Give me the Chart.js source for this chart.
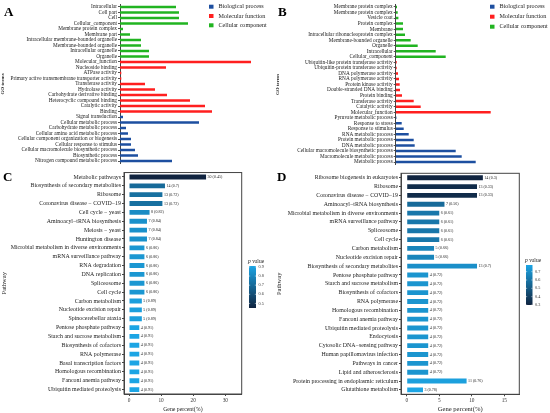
<!DOCTYPE html>
<html>
<head>
<meta charset="utf-8">
<script src="https://cdn.jsdelivr.net/npm/chart.js@4.4.0/dist/chart.umd.min.js"></script>
<style>
  body { margin: 0; background: #fff; width: 550px; height: 413px; overflow: hidden; position: relative; }
  canvas { position: absolute; }
  .tag { position: absolute; font: bold 13px "Liberation Serif", serif; color: #000; line-height: 1; }
</style>
</head>
<body>
<canvas id="chartA" width="275" height="168" style="left:0;top:0"></canvas>
<canvas id="chartB" width="275" height="169" style="left:275px;top:0"></canvas>
<canvas id="chartC" width="275" height="245" style="left:0;top:168px"></canvas>
<canvas id="chartD" width="275" height="245" style="left:275px;top:168px"></canvas>
<div class="tag" style="left:4px;top:5px">A</div>
<div class="tag" style="left:278px;top:5px">B</div>
<div class="tag" style="left:3px;top:170px">C</div>
<div class="tag" style="left:277px;top:170px">D</div>
<script>
const FONT = '"Liberation Serif", serif';

const goCategories = ["Biological process", "Molecular function", "Cellular component"];
const goColors = ["#1d4fa0", "#ff1f1f", "#21b421"];

// panel A: GO terms
const aTerms = [
  "Intracellular", "Cell part", "Cell", "Cellular_component", "Membrane protein complex",
  "Membrane part", "Intracellular membrane-bounded organelle", "Membrane-bounded organelle",
  "Intracellular organelle", "Organelle",
  "Molecular_function", "Nucleoside binding", "ATPase activity",
  "Primary active transmembrane transporter activity", "Transferase activity", "Hydrolase activity",
  "Carbohydrate derivative binding", "Heterocyclic compound binding", "Catalytic activity", "Binding",
  "Signal transduction", "Cellular metabolic process", "Carbohydrate metabolic process",
  "Cellular amino acid metabolic process", "Cellular component organization or biogenesis",
  "Cellular response to stimulus", "Cellular macromolecule biosynthetic process",
  "Biosynthetic process", "Nitrogen compound metabolic process"
];
const aValues = [56, 59, 59, 68, 3, 10, 21, 21, 29, 29,
                 131, 46, 1.3, 1.3, 25, 35, 47, 70, 85, 92,
                 3, 79, 6, 8, 11, 11, 15, 18, 52];
const aGroups = [
  "Cellular component", "Cellular component", "Cellular component", "Cellular component", "Cellular component",
  "Cellular component", "Cellular component", "Cellular component", "Cellular component", "Cellular component",
  "Molecular function", "Molecular function", "Molecular function", "Molecular function", "Molecular function",
  "Molecular function", "Molecular function", "Molecular function", "Molecular function", "Molecular function",
  "Biological process", "Biological process", "Biological process", "Biological process", "Biological process",
  "Biological process", "Biological process", "Biological process", "Biological process"
];

// panel B: GO terms
const bTerms = [
  "Membrane protein complex", "Membrane protein complex", "Vesicle coat", "Protein complex", "Membrane",
  "Intracellular ribonucleoprotein complex", "Membrane-bounded organelle", "Organelle", "Intracellular",
  "Cellular_component",
  "Ubiquitin-like protein transferase activity", "Ubiquitin-protein transferase activity",
  "DNA polymerase activity", "RNA polymerase activity", "Protein kinase activity",
  "Double-stranded DNA binding", "Protein binding", "Transferase activity", "Catalytic activity",
  "Molecular_function",
  "Pyruvate metabolic process", "Response to stress", "Response to stimulus", "RNA metabolic process",
  "Protein metabolic process", "DNA metabolic process", "Cellular macromolecule biosynthetic process",
  "Macromolecule metabolic process", "Metabolic process"
];
const bValues = [1.3, 2, 2.7, 7.3, 7.3, 9.3, 15, 22, 40, 50,
                 1, 1, 2.3, 3.3, 4, 4.3, 6.3, 18, 25, 95,
                 0.7, 6, 8, 13, 18, 19, 60, 66, 80];
const bGroups = aGroups.slice();

// panel C: KEGG pathways
const cPathways = [
  "Metabolic pathways", "Biosynthesis of secondary metabolites", "Ribosome",
  "Coronavirus disease \u2212 COVID\u221219", "Cell cycle \u2212 yeast", "Aminoacyl\u2212tRNA biosynthesis",
  "Meiosis \u2212 yeast", "Huntington disease", "Microbial metabolism in diverse environments",
  "mRNA surveillance pathway", "RNA degradation", "DNA replication", "Spliceosome", "Cell cycle",
  "Carbon metabolism", "Nucleotide excision repair", "Spinocerebellar ataxia",
  "Pentose phosphate pathway", "Starch and sucrose metabolism", "Biosynthesis of cofactors",
  "RNA polymerase", "Basal transcription factors", "Homologous recombination",
  "Fanconi anemia pathway", "Ubiquitin mediated proteolysis"
];
const cCounts = [30, 14, 13, 13, 8, 7, 7, 7, 6, 6, 6, 6, 6, 6, 5, 5, 5, 4, 4, 4, 4, 4, 4, 4, 4];
const cPercent = [24, 11.2, 10.4, 10.4, 6.4, 5.6, 5.6, 5.6, 4.8, 4.8, 4.8, 4.8, 4.8, 4.8,
                  4, 4, 4, 3.2, 3.2, 3.2, 3.2, 3.2, 3.2, 3.2, 3.2];
const cPValues = [0.45, 0.7, 0.72, 0.72, 0.82, 0.84, 0.84, 0.84, 0.86, 0.86, 0.86, 0.86, 0.86, 0.86,
                  0.89, 0.89, 0.89, 0.91, 0.91, 0.91, 0.91, 0.91, 0.91, 0.91, 0.91];
const cXTicks = [0, 10, 20, 30];
const cBarTicks = [0.5, 0.6, 0.7, 0.8, 0.9];

// panel D: KEGG pathways
const dPathways = [
  "Ribosome biogenesis in eukaryotes", "Ribosome", "Coronavirus disease \u2212 COVID\u221219",
  "Aminoacyl\u2212tRNA biosynthesis", "Microbial metabolism in diverse environments",
  "mRNA surveillance pathway", "Spliceosome", "Cell cycle", "Carbon metabolism",
  "Nucleotide excision repair", "Biosynthesis of secondary metabolites", "Pentose phosphate pathway",
  "Starch and sucrose metabolism", "Biosynthesis of cofactors", "RNA polymerase",
  "Homologous recombination", "Fanconi anemia pathway", "Ubiquitin mediated proteolysis",
  "Endocytosis", "Cytosolic DNA\u2212sensing pathway", "Human papillomavirus infection",
  "Pathways in cancer", "Lipid and atherosclerosis", "Protein processing in endoplasmic reticulum",
  "Glutathione metabolism"
];
const dCounts = [14, 13, 13, 7, 6, 6, 6, 6, 5, 5, 13, 4, 4, 4, 4, 4, 4, 4, 4, 4, 4, 4, 4, 11, 3];
const dPercent = [11.7, 10.8, 10.8, 5.8, 5, 5, 5, 5, 4.2, 4.2, 10.8, 3.3, 3.3, 3.3, 3.3,
                  3.3, 3.3, 3.3, 3.3, 3.3, 3.3, 3.3, 3.3, 9.2, 2.5];
const dPValues = [0.3, 0.33, 0.33, 0.56, 0.61, 0.61, 0.61, 0.61, 0.66, 0.66, 0.7, 0.72, 0.72, 0.72,
                  0.72, 0.72, 0.72, 0.72, 0.72, 0.72, 0.72, 0.72, 0.72, 0.76, 0.78];
const dXTicks = [0, 5, 10, 15];
const dBarTicks = [0.3, 0.4, 0.5, 0.6, 0.7];

const LOW = [16, 36, 64], HIGH = [28, 165, 228];
function pColor(p, min, max) {
  const t = Math.max(0, Math.min(1, (p - min) / (max - min)));
  const c = LOW.map((l, i) => Math.round(l + (HIGH[i] - l) * t));
  return `rgb(${c[0]},${c[1]},${c[2]})`;
}

// legend drawn at a free spot so long bars can run under it
const goLegend = {
  id: "goLegend",
  afterDraw(chart, args, opts) {
    const ctx = chart.ctx;
    ctx.save();
    ctx.font = `6.1px ${FONT}`;
    ctx.textBaseline = "middle";
    chart.data.datasets.forEach((ds, i) => {
      const y = opts.y + i * opts.step;
      ctx.fillStyle = ds.backgroundColor;
      ctx.fillRect(opts.x, y - 2, 4.5, 4);
      ctx.fillStyle = "#222";
      ctx.fillText(ds.label, opts.x + 9.5, y);
    });
    ctx.restore();
  }
};

function goChart(id, terms, values, groups, opts) {
  const datasets = goCategories.map((cat, i) => ({
    label: cat,
    data: values.map((v, j) => (groups[j] === cat ? v : null)),
    backgroundColor: goColors[i],
    grouped: false,
    barPercentage: 0.45,
    categoryPercentage: 1
  }));
  return new Chart(document.getElementById(id), {
    type: "bar",
    data: { labels: terms, datasets },
    plugins: [goLegend],
    options: {
      indexAxis: "y",
      responsive: false,
      animation: false,
      layout: { padding: opts.padding },
      plugins: {
        legend: { display: false },
        tooltip: { enabled: false },
        goLegend: opts.legend
      },
      scales: {
        x: { display: false, min: 0, max: opts.xMax },
        y: {
          afterFit: (s) => { s.width = opts.axisWidth; },
          ticks: { autoSkip: false, font: { size: 5.3, family: FONT }, color: "#222", padding: 1 },
          grid: { drawOnChartArea: false, offset: false, tickLength: 2, color: "#555" },
          border: { color: "#444" },
          title: { display: true, text: "GO terms", font: { size: 5, family: FONT, weight: "bold" }, color: "#222", padding: 0 }
        }
      }
    }
  });
}

// box, value labels and p value colour bar
const keggExtras = {
  id: "keggExtras",
  afterDraw(chart, args, opts) {
    const { ctx, chartArea: a } = chart;
    ctx.save();
    ctx.strokeStyle = "#444";
    ctx.lineWidth = 1;
    ctx.strokeRect(a.left, a.top, a.right - a.left, a.bottom - a.top);

    ctx.font = `4px ${FONT}`;
    ctx.fillStyle = "#222";
    ctx.textBaseline = "middle";
    chart.getDatasetMeta(0).data.forEach((bar, i) => {
      ctx.fillText(`${opts.counts[i]} (${opts.pvals[i]})`, bar.x + 1.5, bar.y);
    });

    const cb = opts.colorBar;
    const grad = ctx.createLinearGradient(0, cb.y + cb.h, 0, cb.y);
    for (let k = 0; k <= 10; k++) {
      const p = cb.min + (cb.max - cb.min) * k / 10;
      grad.addColorStop(k / 10, pColor(p, cb.min, cb.max));
    }
    ctx.fillStyle = grad;
    ctx.fillRect(cb.x, cb.y, cb.w, cb.h);
    ctx.fillStyle = "#333";
    ctx.font = `4.2px ${FONT}`;
    ctx.strokeStyle = "#fff";
    ctx.lineWidth = 0.5;
    cb.ticks.forEach((t) => {
      const y = cb.y + cb.h - (t - cb.min) / (cb.max - cb.min) * cb.h;
      ctx.beginPath();
      ctx.moveTo(cb.x, y); ctx.lineTo(cb.x + 1.2, y);
      ctx.moveTo(cb.x + cb.w - 1.2, y); ctx.lineTo(cb.x + cb.w, y);
      ctx.stroke();
      ctx.fillText(t.toFixed(1), cb.x + cb.w + 2.5, y);
    });
    ctx.textBaseline = "bottom";
    ctx.fillStyle = "#222";
    ctx.font = `italic 5.5px ${FONT}`;
    ctx.fillText("p", cb.x - 1, cb.y - 1.5);
    ctx.font = `5.5px ${FONT}`;
    ctx.fillText(" value", cb.x + 1.8, cb.y - 1.5);
    ctx.restore();
  }
};

function keggChart(id, pathways, percent, counts, pvals, xTicks, barTicks, opts) {
  const pMin = Math.min(...pvals), pMax = Math.max(...pvals);
  return new Chart(document.getElementById(id), {
    type: "bar",
    data: {
      labels: pathways,
      datasets: [{
        data: percent,
        backgroundColor: pvals.map((p) => pColor(p, pMin, pMax)),
        barPercentage: 0.55,
        categoryPercentage: 1
      }]
    },
    plugins: [keggExtras],
    options: {
      indexAxis: "y",
      responsive: false,
      animation: false,
      layout: { padding: opts.padding },
      plugins: {
        legend: { display: false },
        tooltip: { enabled: false },
        keggExtras: {
          counts, pvals,
          colorBar: Object.assign({ min: pMin, max: pMax, ticks: barTicks }, opts.colorBar)
        }
      },
      scales: {
        x: {
          min: opts.xMin, max: opts.xMax,
          afterFit: (s) => { s.height = opts.xHeight; },
          afterBuildTicks: (s) => { s.ticks = xTicks.map((v) => ({ value: v })); },
          ticks: { font: { size: 5.3, family: FONT }, color: "#333", padding: 1 },
          grid: { drawOnChartArea: false, tickLength: 2, color: "#444" },
          border: { color: "#444" },
          title: { display: true, text: "Gene percent(%)", font: { size: opts.titleSize, family: FONT }, color: "#222", padding: { top: 0, bottom: 0 } }
        },
        y: {
          afterFit: (s) => { s.width = opts.axisWidth; },
          ticks: { autoSkip: false, font: { size: opts.labelSize, family: FONT }, color: "#222", padding: 1 },
          grid: { drawOnChartArea: false, offset: false, tickLength: 2, color: "#444" },
          border: { color: "#444" },
          title: { display: true, text: "Pathway", font: { size: 6.5, family: FONT }, color: "#222", padding: 0 }
        }
      }
    }
  });
}

goChart("chartA", aTerms, aValues, aGroups, {
  padding: { top: 3.9, bottom: 0.9, left: 0, right: 15 },
  axisWidth: 120, xMax: 140,
  legend: { x: 209, y: 6.7, step: 9.3 }
});
goChart("chartB", bTerms, bValues, bGroups, {
  padding: { top: 3.9, bottom: 0.9, left: 0, right: 14.3 },
  axisWidth: 120.7, xMax: 140,
  legend: { x: 215, y: 6.7, step: 10 }
});
keggChart("chartC", cPathways, cPercent, cCounts, cPValues, cXTicks, cBarTicks, {
  padding: { top: 3, bottom: 0, left: 0, right: 33.3 },
  axisWidth: 124, xHeight: 19, xMin: -1.56, xMax: 35.1,
  labelSize: 5.9, titleSize: 5.8,
  colorBar: { x: 249, y: 98, w: 7, h: 42 }
});
keggChart("chartD", dPathways, dPercent, dCounts, dPValues, dXTicks, dBarTicks, {
  padding: { top: 5.3, bottom: 0, left: 0, right: 30.7 },
  axisWidth: 126, xHeight: 18.7, xMin: -0.88, xMax: 17.3,
  labelSize: 5.9, titleSize: 6.6,
  colorBar: { x: 251, y: 97, w: 6.5, h: 40 }
});
</script>
</body>
</html>
